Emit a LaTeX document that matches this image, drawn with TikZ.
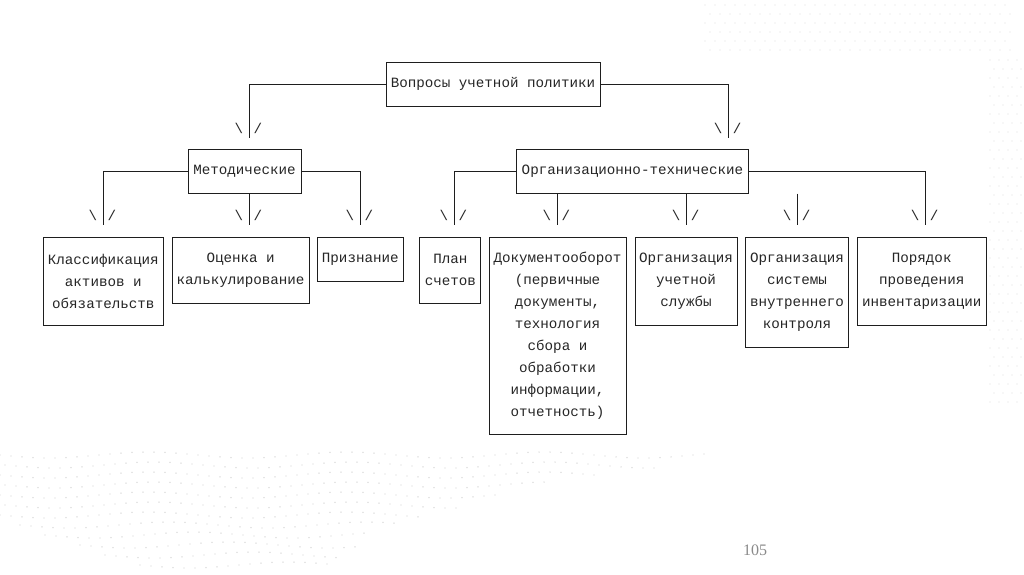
\documentclass[tikz,border=0pt]{standalone}
\usepackage{fontspec}
\newfontfamily\monof{Liberation Mono}
\newfontfamily\seriff{Liberation Serif}
\definecolor{linec}{HTML}{1E1E1E}
\definecolor{textc}{HTML}{262626}
\definecolor{dotc}{HTML}{D2D2D2}
\definecolor{numc}{HTML}{8A8A8A}
\tikzset{
  box/.style={draw=linec, line width=1pt, fill=white, inner sep=0pt, align=center,
    font=\monof\fontsize{14.2}{22}\selectfont, text=textc},
  conn/.style={draw=linec, line width=1pt},
  slashglyph/.style={inner sep=0pt, font=\monof\fontsize{14.2}{22}\selectfont, text=textc}
}
\begin{document}
\begin{tikzpicture}[x=1pt,y=-1pt]
\useasboundingbox (0,0) rectangle (1024,574);
\fill[white] (0,0) rectangle (1024,574);
% background dots (bottom-left band)
\foreach \j in {0,...,11}{
  \pgfmathsetmacro\yy{455+\j*10}
  \pgfmathsetmacro\xmax{330+390*((574-\yy)/120)^2}
  \pgfmathsetmacro\xmin{max(0,(\yy-520)*3)}
  \pgfmathtruncatemacro\nn{(\xmax-\xmin)/11}
  \foreach \i in {0,...,\nn}{
    \fill[dotc] ({\xmin+\i*11+mod(\j,2)*5},{\yy+3*sin(\i*20)}) circle (0.7);
  }
}
% top-right dots
\foreach \j in {0,...,5}{
  \pgfmathsetmacro\yy{5+\j*9}
  \foreach \i in {0,...,30}{
    \fill[dotc!70] ({705+\i*10+mod(\j,2)*5},\yy) circle (0.6);
  }
}
\foreach \j in {0,...,38}{
  \pgfmathsetmacro\yy{60+\j*9}
  \foreach \i in {0,...,3}{
    \fill[dotc!70] ({990+\i*9+mod(\j,2)*4},\yy) circle (0.6);
  }
}
% boxes
\node[box, minimum width=214, minimum height=44] (top) at (493,84) {Вопросы учетной политики};
\node[box, minimum width=113, minimum height=44] (met) at (244.5,171) {Методические};
\node[box, minimum width=232, minimum height=44] (org) at (632.5,171) {Организационно-технические};
\node[box, minimum width=120, minimum height=88] (b1) at (103.3,281) {Классификация\\активов и\\обязательств};
\node[box, minimum width=137, minimum height=66] (b2) at (240.6,270) {Оценка и\\калькулирование};
\node[box, minimum width=86, minimum height=44] (b3) at (360.3,259) {Признание};
\node[box, minimum width=61, minimum height=66] (b4) at (450.4,270) {План\\счетов};
\node[box, minimum width=137, minimum height=197] (b5) at (557.5,335.5) {Документооборот\\(первичные\\документы,\\технология\\сбора и\\обработки\\информации,\\отчетность)};
\node[box, minimum width=102, minimum height=88] (b6) at (686,281) {Организация\\учетной\\службы};
\node[box, minimum width=103, minimum height=110] (b7) at (797,292) {Организация\\системы\\внутреннего\\контроля};
\node[box, minimum width=129, minimum height=88] (b8) at (921.7,281) {Порядок\\проведения\\инвентаризации};
% connector ends
\coordinate (e1) at (249,138);
\coordinate (e2) at (728,138);
\coordinate (f1) at (103,225);
\coordinate (f2) at (249,225);
\coordinate (f3) at (360,225);
\coordinate (f4) at (454,225);
\coordinate (f5) at (557,225);
\coordinate (f6) at (686,225);
\coordinate (f7) at (797,225);
\coordinate (f8) at (925,225);
% connectors
\draw[conn] (top.west) -| (e1);
\draw[conn] (top.east) -| (e2);
\draw[conn] (met.west) -| (f1);
\draw[conn] (met.south -| f2) -- (f2);
\draw[conn] (met.east) -| (f3);
\draw[conn] (org.west) -| (f4);
\draw[conn] (org.south west) -| (f5);
\draw[conn] (org.south -| f6) -- (f6);
\draw[conn] (org.south -| f7) -- (f7);
\draw[conn] (org.east) -| (f8);
% arrow glyphs
\foreach \e/\n in {e1/a,e2/b,f1/c,f2/d,f3/e,f4/f,f5/g,f6/h,f7/i,f8/j}{
  \node[slashglyph] (l\n) at ([xshift=-10pt,yshift=10pt]\e) {\textbackslash};
  \node[slashglyph] (r\n) at ([xshift=9pt,yshift=10pt]\e) {/};
}
% page number
\node[font=\seriff\fontsize{16}{18}\selectfont, text=numc, inner sep=0pt] (pg) at (755,550) {105};
\end{tikzpicture}
\end{document}
